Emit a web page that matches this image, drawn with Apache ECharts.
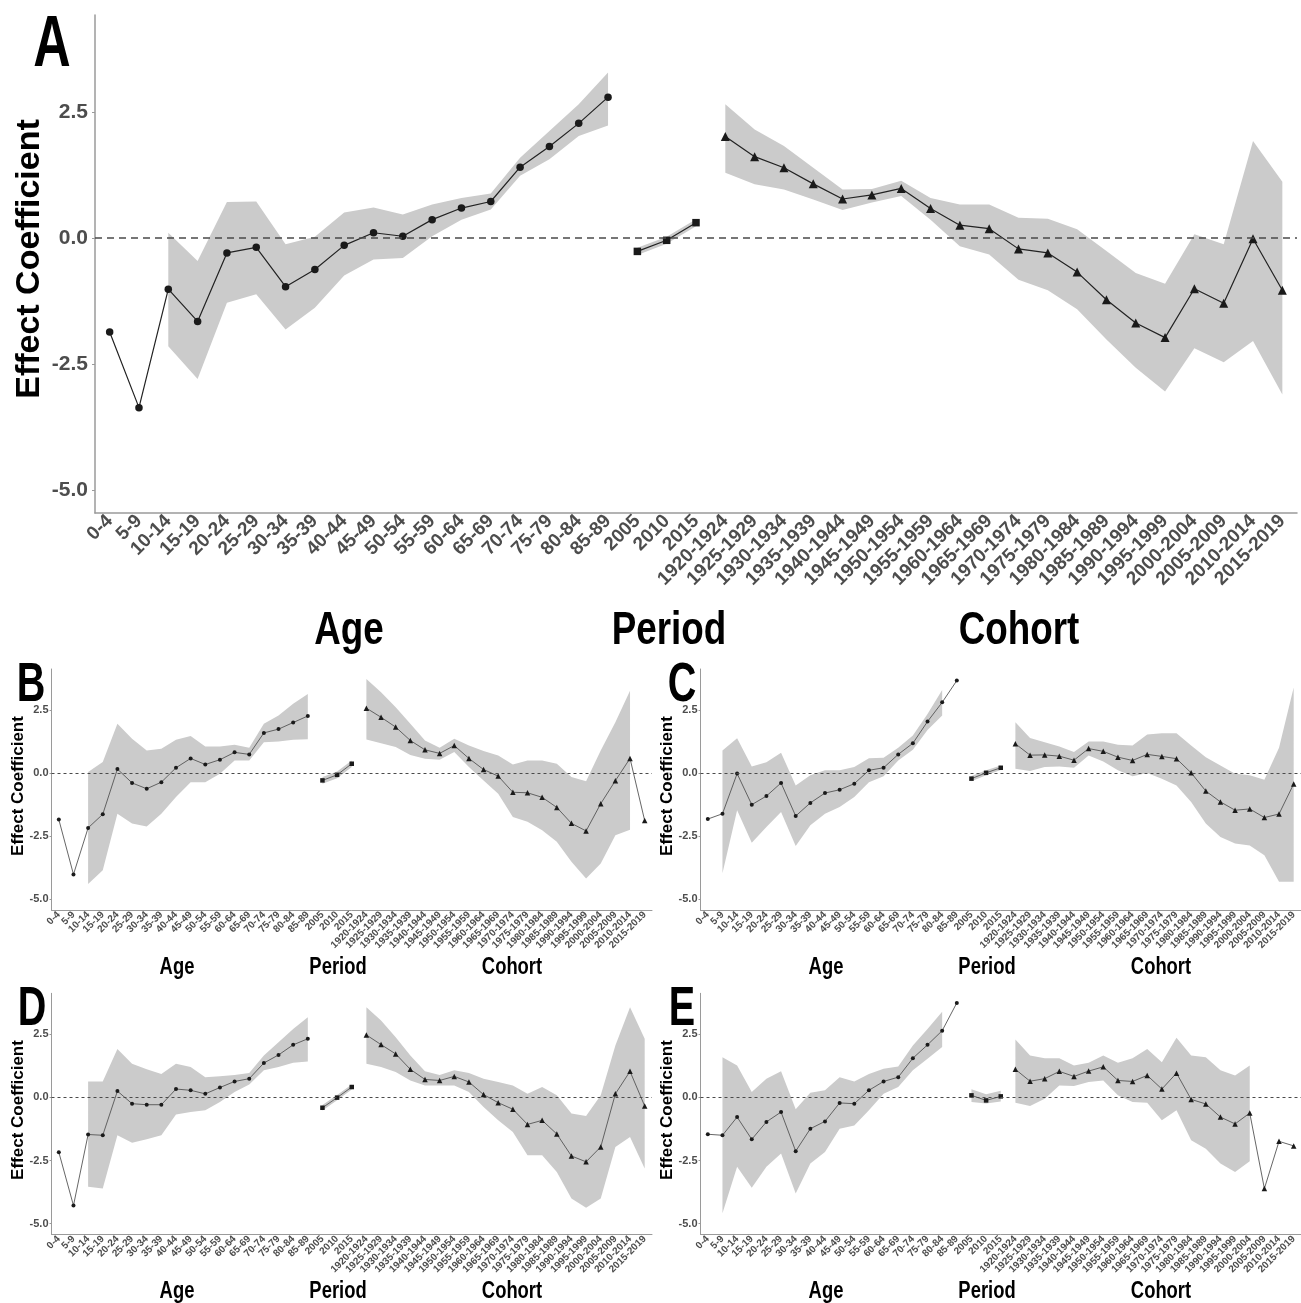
<!DOCTYPE html>
<html>
<head>
<meta charset="utf-8">
<script src="https://cdn.jsdelivr.net/npm/echarts@6/dist/echarts.min.js"></script>
<style>
html, body { margin: 0; padding: 0; background: #fff; }
#chart { width: 1301px; height: 1303px; }
</style>
</head>
<body>
<div id="chart"></div>
<script>
var ages = ['0-4', '5-9', '10-14', '15-19', '20-24', '25-29', '30-34', '35-39', '40-44', '45-49',
    '50-54', '55-59', '60-64', '65-69', '70-74', '75-79', '80-84', '85-89'];
var periods = ['2005', '2010', '2015'];
var cohorts = ['1920-1924', '1925-1929', '1930-1934', '1935-1939', '1940-1944', '1945-1949', '1950-1954',
    '1955-1959', '1960-1964', '1965-1969', '1970-1974', '1975-1979', '1980-1984', '1985-1989',
    '1990-1994', '1995-1999', '2000-2004', '2005-2009', '2010-2014', '2015-2019'];
var categories = ages.concat(periods, cohorts);
var yTicks = [-5, -2.5, 0, 2.5];

// panel A
var aEst = [-1.87, -3.37, -1.02, -1.66, -0.30, -0.19, -0.97, -0.63, -0.15, 0.10, 0.03, 0.36, 0.59, 0.72, 1.40, 1.81, 2.27, 2.79,
    -0.27, -0.05, 0.30,
    2.01, 1.61, 1.39, 1.07, 0.77, 0.85, 0.98, 0.58, 0.25, 0.18, -0.22, -0.30, -0.68, -1.23, -1.69, -1.98, -1.01, -1.30, -0.02, -1.04];
var aLower = [null, null, -2.15, -2.80, -1.29, -1.12, -1.82, -1.39, -0.75, -0.43, -0.40, 0.03, 0.36, 0.56, 1.23, 1.56, 2.02, 2.23,
    -0.34, -0.12, 0.23,
    1.29, 1.06, 0.96, 0.76, 0.55, 0.70, 0.83, 0.36, -0.17, -0.33, -0.83, -1.04, -1.42, -2.02, -2.58, -3.05, -2.19, -2.47, -2.05, -3.11];
var aUpper = [null, null, 0.10, -0.46, 0.71, 0.72, -0.13, 0.02, 0.50, 0.60, 0.46, 0.66, 0.79, 0.88, 1.59, 2.12, 2.65, 3.28,
    -0.20, 0.02, 0.37,
    2.65, 2.15, 1.82, 1.39, 0.96, 0.97, 1.13, 0.79, 0.66, 0.66, 0.40, 0.38, 0.17, -0.26, -0.70, -0.91, 0.07, -0.13, 1.92, 1.11];

// panel B
var bEst = [-1.84, -4.01, -2.17, -1.63, 0.16, -0.39, -0.62, -0.36, 0.21, 0.58, 0.34, 0.53, 0.82, 0.74, 1.59, 1.74, 2.00, 2.26,
    -0.29, -0.07, 0.37,
    2.57, 2.21, 1.82, 1.29, 0.92, 0.78, 1.09, 0.58, 0.14, -0.12, -0.76, -0.78, -0.96, -1.36, -1.99, -2.29, -1.21, -0.30, 0.58, -1.88];
var bLower = [null, null, -4.39, -3.85, -1.61, -2.00, -2.11, -1.61, -0.95, -0.36, -0.36, -0.03, 0.50, 0.50, 1.22, 1.25, 1.32, 1.34,
    -0.42, -0.20, 0.24,
    1.33, 1.18, 1.03, 0.72, 0.57, 0.53, 0.83, 0.24, -0.29, -0.82, -1.74, -1.93, -2.26, -2.72, -3.51, -4.17, -3.58, -2.46, -2.24, null];
var bUpper = [null, null, 0.04, 0.44, 1.95, 1.36, 0.89, 0.96, 1.32, 1.47, 1.05, 1.05, 1.12, 1.00, 1.95, 2.28, 2.74, 3.13,
    -0.16, 0.06, 0.50,
    3.72, 3.20, 2.61, 1.95, 1.29, 1.00, 1.36, 1.09, 0.87, 0.70, 0.34, 0.50, 0.50, 0.37, -0.16, -0.32, 0.89, 2.01, 3.26, null];

// panel C
var cEst = [-1.82, -1.61, -0.02, -1.25, -0.91, -0.39, -1.70, -1.18, -0.79, -0.66, -0.42, 0.11, 0.21, 0.74, 1.18, 2.04, 2.80, 3.66,
    -0.22, 0.01, 0.21,
    1.16, 0.71, 0.72, 0.67, 0.51, 0.97, 0.86, 0.63, 0.50, 0.74, 0.66, 0.57, 0.01, -0.71, -1.14, -1.47, -1.42, -1.76, -1.62, -0.43];
var cLower = [null, -3.97, -1.47, -2.76, -2.13, -1.54, -2.89, -2.07, -1.61, -1.34, -0.95, -0.36, -0.13, 0.50, 0.92, 1.71, 2.28, null,
    -0.32, -0.09, 0.12,
    0.17, 0.08, 0.24, 0.26, 0.21, 0.70, 0.46, 0.11, -0.13, 0.00, -0.22, -0.49, -1.14, -2.00, -2.53, -2.79, -2.87, -3.25, -4.30, -4.30];
var cUpper = [null, 0.89, 1.38, 0.26, 0.43, 0.80, -0.49, -0.09, 0.11, 0.11, 0.24, 0.59, 0.61, 1.00, 1.49, 2.34, 3.29, null,
    -0.12, 0.11, 0.30,
    2.01, 1.39, 1.22, 1.05, 0.83, 1.25, 1.25, 1.12, 1.09, 1.53, 1.58, 1.58, 1.09, 0.63, 0.30, -0.03, -0.09, -0.26, 1.00, 3.39];

// panel D
var dEst = [-2.17, -4.28, -1.47, -1.50, 0.25, -0.25, -0.29, -0.29, 0.33, 0.28, 0.14, 0.39, 0.63, 0.74, 1.36, 1.68, 2.08, 2.32,
    -0.41, -0.01, 0.41,
    2.47, 2.09, 1.72, 1.11, 0.71, 0.67, 0.83, 0.61, 0.11, -0.21, -0.47, -1.07, -0.91, -1.45, -2.32, -2.55, -1.96, 0.14, 1.03, -0.34];
var dLower = [null, null, -3.54, -3.61, -1.50, -1.80, -1.66, -1.50, -0.68, -0.58, -0.51, -0.18, 0.21, 0.51, 1.07, 1.20, 1.37, 1.42,
    -0.52, -0.11, 0.31,
    1.33, 1.20, 1.00, 0.67, 0.47, 0.47, 0.47, 0.21, -0.38, -0.91, -1.37, -2.29, -2.29, -2.95, -4.00, -4.37, -4.00, -1.96, -1.57, -2.82];
var dUpper = [null, null, 0.63, 0.63, 1.92, 1.33, 1.11, 0.93, 1.33, 1.20, 0.80, 0.84, 0.89, 0.97, 1.66, 2.18, 2.71, 3.17,
    -0.30, 0.09, 0.51,
    3.57, 3.04, 2.38, 1.66, 1.03, 0.89, 1.07, 0.97, 0.74, 0.61, 0.47, 0.14, 0.41, 0.08, -0.64, -0.74, 0.08, 2.05, 3.57, 2.32];

// panel E
var eEst = [-1.46, -1.50, -0.78, -1.66, -0.97, -0.58, -2.13, -1.24, -0.95, -0.22, -0.25, 0.28, 0.63, 0.80, 1.55, 2.08, 2.64, 3.74,
    0.08, -0.12, 0.04,
    1.11, 0.64, 0.74, 1.03, 0.83, 1.04, 1.21, 0.67, 0.63, 0.87, 0.33, 0.96, -0.08, -0.26, -0.78, -1.05, -0.62, -3.61, -1.74, -1.92];
var eLower = [null, -4.59, -2.75, -3.58, -2.75, -2.22, -3.80, -2.62, -2.16, -1.24, -1.11, -0.51, 0.14, 0.41, 1.07, 1.53, 1.99, null,
    -0.18, -0.24, -0.16,
    -0.21, -0.34, -0.05, 0.47, 0.45, 0.61, 0.67, 0.08, -0.18, -0.21, -0.91, -0.51, -1.70, -2.03, -2.62, -2.95, -2.53, null, null, null];
var eUpper = [null, 1.59, 1.26, 0.21, 0.74, 1.03, -0.47, 0.18, 0.28, 0.80, 0.63, 0.93, 1.13, 1.22, 2.05, 2.71, 3.39, null,
    0.32, 0.12, 0.26,
    2.29, 1.66, 1.55, 1.55, 1.26, 1.37, 1.66, 1.37, 1.55, 1.92, 1.39, 2.36, 1.66, 1.59, 1.07, 0.87, 1.26, null, null, null];

var FONT = '"Liberation Sans", Arial, Helvetica, sans-serif';

var panels = [
    { name: 'A', est: aEst, lower: aLower, upper: aUpper, left: 95, top: 15, width: 1202, height: 498, min: -5.46, max: 4.42, big: true },
    { name: 'B', est: bEst, lower: bLower, upper: bUpper, left: 51.5, top: 669, width: 600.5, height: 241, min: -5.42, max: 4.12 },
    { name: 'C', est: cEst, lower: cLower, upper: cUpper, left: 700.5, top: 669, width: 600.5, height: 241, min: -5.42, max: 4.12 },
    { name: 'D', est: dEst, lower: dLower, upper: dUpper, left: 51.5, top: 993.3, width: 600.5, height: 241, min: -5.42, max: 4.12 },
    { name: 'E', est: eEst, lower: eLower, upper: eUpper, left: 700.5, top: 993.3, width: 600.5, height: 241, min: -5.42, max: 4.12 }
];

function groupOf(i) {
    if (i < ages.length) return 0;
    if (i < ages.length + periods.length) return 1;
    return 2;
}

// contiguous runs with a CI, not crossing age/period/cohort
function bandSegments(lower, upper) {
    var segs = [], cur = null;
    for (var i = 0; i < categories.length; i++) {
        var ok = lower[i] != null && upper[i] != null;
        if (ok && cur && groupOf(i) === groupOf(cur[1]) && cur[1] === i - 1) {
            cur[1] = i;
        } else {
            if (cur && cur[1] > cur[0]) segs.push(cur);
            cur = ok ? [i, i] : null;
        }
    }
    if (cur && cur[1] > cur[0]) segs.push(cur);
    return segs;
}

var grids = [], xAxes = [], yAxes = [], series = [];

panels.forEach(function (p, k) {
    var big = !!p.big;
    grids.push({ left: p.left, top: p.top, width: p.width, height: p.height });
    xAxes.push({
        type: 'category', gridIndex: k, data: categories, boundaryGap: true,
        axisLine: { onZero: false, lineStyle: { color: '#9a9a9a', width: big ? 1.5 : 1 } },
        axisTick: { alignWithLabel: true, length: big ? 4 : 2.5, lineStyle: { color: '#9a9a9a' } },
        axisLabel: {
            interval: 0, rotate: 45, margin: big ? 5 : 3,
            fontFamily: FONT, fontWeight: 'bold', fontSize: big ? 19 : 10, color: '#4d4d4d'
        },
        splitLine: { show: false }
    });
    yAxes.push({
        type: 'value', gridIndex: k, min: p.min, max: p.max,
        axisLine: { show: true, onZero: false, lineStyle: { color: '#9a9a9a', width: big ? 1.5 : 1 } },
        axisTick: { show: true, length: big ? 3 : 2, customValues: yTicks, lineStyle: { color: '#9a9a9a' } },
        axisLabel: {
            customValues: yTicks, margin: big ? 7 : 3,
            fontFamily: FONT, fontWeight: 'bold', fontSize: big ? 21 : 11, color: '#4d4d4d',
            formatter: function (v) { return v.toFixed(1); }
        },
        splitLine: { show: false }
    });

    var segs = bandSegments(p.lower, p.upper);
    series.push({
        type: 'custom', xAxisIndex: k, yAxisIndex: k, z: 1, silent: true,
        data: segs.map(function (s) { return [s[0], 0]; }),
        renderItem: function (params, api) {
            var s = segs[params.dataIndex], pts = [], i;
            for (i = s[0]; i <= s[1]; i++) pts.push(api.coord([i, p.upper[i]]));
            for (i = s[1]; i >= s[0]; i--) pts.push(api.coord([i, p.lower[i]]));
            return { type: 'polygon', shape: { points: pts }, style: { fill: '#cbcbcb' } };
        }
    });

    var symbols = ['circle', 'rect', 'triangle'];
    var sizes = big ? [7.5, 7.5, 9] : [4, 4.5, 5.5];
    [0, 1, 2].forEach(function (g) {
        var s = {
            type: 'line', xAxisIndex: k, yAxisIndex: k, z: 3, silent: true,
            data: p.est.map(function (v, i) { return groupOf(i) === g ? v : null; }),
            connectNulls: false,
            symbol: symbols[g], symbolSize: sizes[g], showAllSymbol: true,
            lineStyle: { color: big ? '#222' : '#555', width: big ? 1.2 : 0.9 },
            itemStyle: { color: '#1a1a1a' }
        };
        if (g === 0) {
            s.markLine = {
                silent: true, symbol: ['none', 'none'], label: { show: false },
                lineStyle: { color: '#4a4a4a', type: big ? [7, 5] : [3, 3], width: big ? 1.5 : 1 },
                data: [{ yAxis: 0 }]
            };
        }
        series.push(s);
    });
});

function label(text, x, y, size, opt) {
    opt = opt || {};
    return {
        type: 'text', x: x, y: y, rotation: opt.rotation || 0, scaleX: opt.scaleX || 1, silent: true,
        style: {
            text: text, fontFamily: FONT, fontSize: size, fontWeight: opt.weight || 'bold',
            fill: '#000', align: 'center', verticalAlign: 'middle'
        }
    };
}

var graphics = [
    label('A', 52, 46, 72, { scaleX: 0.72 }),
    label('B', 31, 686, 55, { scaleX: 0.72 }),
    label('C', 682, 686, 55, { scaleX: 0.72 }),
    label('D', 32, 1010, 55, { scaleX: 0.72 }),
    label('E', 682, 1010, 55, { scaleX: 0.72 }),
    label('Effect Coefficient', 30, 259, 34, { rotation: Math.PI / 2 }),
    label('Effect Coefficient', 18, 786, 17, { rotation: Math.PI / 2 }),
    label('Effect Coefficient', 667, 786, 17, { rotation: Math.PI / 2 }),
    label('Effect Coefficient', 18, 1110, 17, { rotation: Math.PI / 2 }),
    label('Effect Coefficient', 667, 1110, 17, { rotation: Math.PI / 2 }),
    label('Age', 349, 631, 46, { scaleX: 0.8 }),
    label('Period', 669, 631, 46, { scaleX: 0.8 }),
    label('Cohort', 1019, 631, 46, { scaleX: 0.8 })
];
[[0, 968], [649, 968], [0, 1292], [649, 1292]].forEach(function (o) {
    graphics.push(label('Age', 177 + o[0], o[1], 23, { scaleX: 0.8 }));
    graphics.push(label('Period', 338 + o[0], o[1], 23, { scaleX: 0.8 }));
    graphics.push(label('Cohort', 512 + o[0], o[1], 23, { scaleX: 0.8 }));
});

var myChart = echarts.init(document.getElementById('chart'));
myChart.setOption({
    backgroundColor: '#ffffff',
    animation: false,
    grid: grids,
    xAxis: xAxes,
    yAxis: yAxes,
    series: series,
    graphic: graphics
});
</script>
</body>
</html>
